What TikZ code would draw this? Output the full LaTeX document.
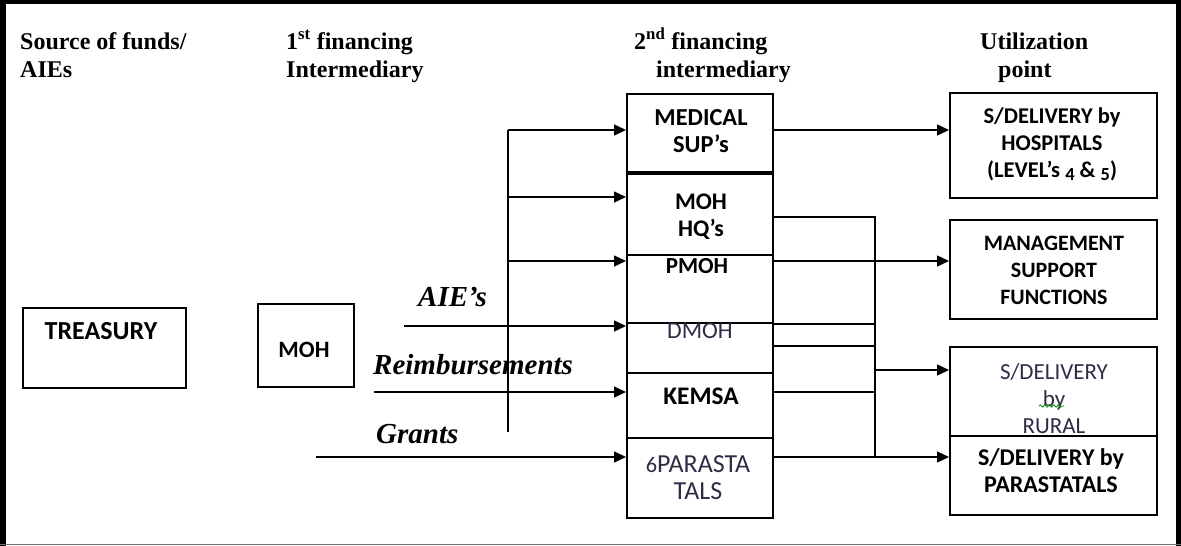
\documentclass[tikz,border=0pt]{standalone}
\usepackage{fontspec}
\usepackage{graphicx}
\setmainfont{Liberation Serif}
\newfontfamily\calfont{Carlito}
\usetikzlibrary{arrows.meta,decorations.pathmorphing}
\newcommand\mystackc[1]{\begin{tabular}[t]{@{}c@{}}#1\end{tabular}}
\newcommand\mystackl[1]{\begin{tabular}[t]{@{}l@{}}#1\end{tabular}}
\newcommand\osdown[1]{\raisebox{-0.17em}{\scalebox{0.82}{#1}}}
\newcommand\osup[1]{\scalebox{0.86}{#1}}
\definecolor{softtxt}{RGB}{45,45,70}
\begin{document}
\begin{tikzpicture}[x=1pt,y=-1pt,
  box/.style={draw, line width=1.5pt, inner sep=0pt, anchor=north west},
  boldt/.style={font=\calfont\bfseries\fontsize{#1}{27}\selectfont, anchor=base, inner sep=0pt},
  boldt/.default=22,
  regt/.style={font=\calfont\fontsize{#1}{27}\selectfont, text=softtxt, anchor=base, inner sep=0pt},
  regt/.default=22,
  hdr/.style={font=\bfseries\fontsize{24}{28}\selectfont, anchor=base west, inner sep=0pt},
  lab/.style={font=\bfseries\itshape\fontsize{29}{32}\selectfont, anchor=base west, inner sep=0pt},
  ln/.style={line width=1.4pt},
  arr/.style={line width=1.4pt, -{Triangle[length=12pt,width=11pt]}}]
\useasboundingbox (0,0) rectangle (1181,546);
\fill[white] (0,0) rectangle (1181,546);
% frame
\draw[line width=6pt] (3,0) -- (3,546);
\draw[line width=4pt] (0,2) -- (1181,2);
\draw[line width=5pt] (1178.5,0) -- (1178.5,546);
\draw[line width=1.5pt, black!55] (0,544.5) -- (1181,544.5);

% headers
\node[hdr] (h1) at (20,49) {\mystackl{Source of funds/\\AIEs}};
\node[hdr] (h2) at (286,49) {\mystackl{1\textsuperscript{st} financing\\Intermediary}};
\node[hdr] (h3) at (634,49) {\mystackl{2\textsuperscript{nd} financing\\\hspace{22pt}intermediary}};
\node[hdr] (h4) at (980,49) {\mystackl{Utilization\\\hspace{18pt}point}};

% boxes
\node[box, minimum width=163pt, minimum height=80pt] (treas) at (22,307) {};
\node[box, minimum width=96pt, minimum height=83pt] (moh) at (257,303) {};
\node[box, minimum width=146pt, minimum height=78pt] (med) at (626,93) {};
\node[box, minimum width=146pt, minimum height=81pt] (hq) at (626,173) {};
\node[box, minimum width=146pt, minimum height=68pt] (pmoh) at (626,254) {};
\node[box, minimum width=146pt, minimum height=50pt] (dmoh) at (626,322) {};
\node[box, minimum width=146pt, minimum height=65pt] (kemsa) at (626,372) {};
\node[box, minimum width=146pt, minimum height=80pt] (para) at (626,437) {};
\node[box, minimum width=207pt, minimum height=105pt] (hosp) at (949,92) {};
\node[box, minimum width=207pt, minimum height=99pt] (mgmt) at (949,219) {};
\node[box, minimum width=207pt, minimum height=89pt] (rural) at (949,346) {};
\node[box, minimum width=207pt, minimum height=79pt] (spara) at (949,435) {};

% box texts
\node[boldt=26] (treas-t) at (101,339) {TREASURY};
\node[boldt=23.4] (moh-t) at (304,357) {MOH};
\node[boldt=24.4] (med-t) at (701,125) {\mystackc{MEDICAL\\SUP’s}};
\node[boldt=23.8] (hq-t) at (701,209) {\mystackc{MOH\\HQ’s}};
\node[boldt=23] (pmoh-t) at (697,273) {PMOH};
\node[regt=23.8] (dmoh-t) at (700,338) {DMOH};
\node[boldt=25.3] (kemsa-t) at (701,404) {KEMSA};
\node[regt=26] (para-t) at (698,472) {\mystackc{\osup{6}PARASTA\\TALS}};
\node[boldt=22.5] (hosp-t) at (1052,123) {\mystackc{S/DELIVERY by\\HOSPITALS\\(LEVEL’s \osdown{4} \& \osdown{5})}};
\node[boldt=22] (mgmt-t) at (1054,250) {\mystackc{MANAGEMENT\\SUPPORT\\FUNCTIONS}};
\node[regt=23] (rural-t) at (1054,379) {\mystackc{S/DELIVERY\\by\\RURAL}};
\node[boldt=24] (spara-t) at (1051,465) {\mystackc{S/DELIVERY by\\PARASTATALS}};
\draw[green!55!black, line width=0.8pt, decorate, decoration={snake, amplitude=1.2pt, segment length=4.5pt}] (1039,406) -- (1064,406);

% flow labels
\node[lab] (aie-l) at (418,306) {AIE’s};
\node[lab] (rei-l) at (373,374) {Reimbursements};
\node[lab] (gra-l) at (376,443) {Grants};

% left connectors
\coordinate (vt) at (508,130);
\coordinate (vb) at (508,432);
\coordinate (j2) at (508,197);
\coordinate (j3) at (508,261);
\coordinate (aie) at (404,326);
\coordinate (rei) at (374,392);
\coordinate (gra) at (316,457);
\draw[ln] (vt) -- (vb);
\draw[arr] (vt) -- (vt -| med.west);
\draw[arr] (j2) -- (j2 -| hq.west);
\draw[arr] (j3) -- (j3 -| pmoh.west);
\draw[arr] (aie) -- (aie -| dmoh.west);
\draw[arr] (rei) -- (rei -| kemsa.west);
\draw[arr] (gra) -- (gra -| para.west);

% right connectors
\coordinate (r1) at (875,217);
\coordinate (r2) at (875,457);
\coordinate (d1) at (875,324);
\coordinate (d2) at (875,346);
\coordinate (r3) at (875,370);
\coordinate (k1) at (875,392);
\draw[arr] (med.east |- vt) -- (vt -| hosp.west);
\draw[ln] (hq.east |- r1) -- (r1) -- (r2);
\draw[arr] (pmoh.east |- j3) -- (j3 -| mgmt.west);
\draw[ln] (dmoh.east |- d1) -- (d1);
\draw[ln] (dmoh.east |- d2) -- (d2);
\draw[arr] (r3) -- (r3 -| rural.west);
\draw[ln] (kemsa.east |- k1) -- (k1);
\draw[arr] (para.east |- r2) -- (r2 -| spara.west);
\end{tikzpicture}
\end{document}
